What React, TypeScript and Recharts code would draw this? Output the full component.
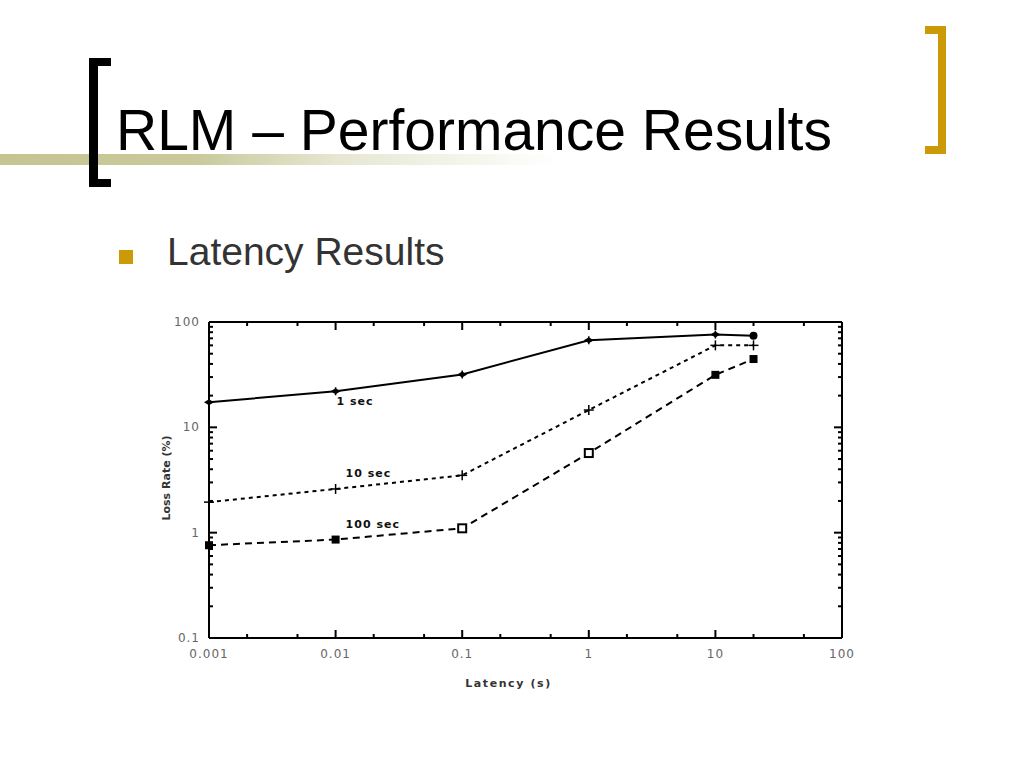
import React from 'react';
import { LineChart, Line, XAxis, YAxis } from 'recharts';

// ---- data ----
const latency = [0.001, 0.01, 0.1, 1, 10, 20];
const loss1s = [17.3, 22, 31.8, 67, 76, 74];
const loss10s = [1.95, 2.6, 3.5, 14.6, 60, 60];
const loss100s = [0.76, 0.86, 1.1, 5.7, 31.5, 44.5];

const seriesNames = ['1 sec', '10 sec', '100 sec'];

const xMajorTicks = [0.001, 0.01, 0.1, 1, 10, 100];
const xMinorTicks = [0.002, 0.005, 0.02, 0.05, 0.2, 0.5, 2, 5, 20, 50];
const yMajorTicks = [0.1, 1, 10, 100];
const yMinorTicks = [
  0.2, 0.3, 0.4, 0.5, 0.6, 0.7, 0.8, 0.9,
  2, 3, 4, 5, 6, 7, 8, 9,
  20, 30, 40, 50, 60, 70, 80, 90,
];

const xTicks = [...xMajorTicks, ...xMinorTicks].sort((a, b) => a - b);
const yTicks = [...yMajorTicks, ...yMinorTicks].sort((a, b) => a - b);

const build = (ys: number[]) => latency.map((x, i) => ({ x, y: ys[i] }));
const data1 = build(loss1s);
const data10 = build(loss10s);
const data100 = build(loss100s);

// chart layout
const CHART_W = 720;
const CHART_H = 400;
const MARGIN = { top: 21, right: 27, left: 58, bottom: 61 };
const AXIS_T = 1;
const PLOT_W = CHART_W - MARGIN.left - MARGIN.right - 2 * AXIS_T;
const PLOT_H = CHART_H - MARGIN.top - MARGIN.bottom - 2 * AXIS_T;

const tickFont = {
  fontFamily: 'DejaVu Sans, sans-serif',
  fontSize: 12,
  fill: '#666',
  letterSpacing: 1,
};

const isMajor = (list: number[], v: number) => list.some((m) => Math.abs(m - v) < 1e-9);

const XTickBottom = (props: any) => {
  const { x, y, payload } = props;
  const major = isMajor(xMajorTicks, payload.value);
  const len = major ? 8 : 4;
  const top = y - PLOT_H;
  return (
    <g>
      <line x1={x} x2={x} y1={y} y2={y - len} stroke="#000" strokeWidth={2} />
      <line x1={x} x2={x} y1={top} y2={top + len} stroke="#000" strokeWidth={2} />
      {major && (
        <text x={x} y={y + 20} textAnchor="middle" style={tickFont}>
          {String(payload.value)}
        </text>
      )}
    </g>
  );
};

const YTickLeft = (props: any) => {
  const { x, y, payload } = props;
  const major = isMajor(yMajorTicks, payload.value);
  const len = major ? 8 : 4;
  const right = x + PLOT_W;
  return (
    <g>
      <line x1={x} x2={x + len} y1={y} y2={y} stroke="#000" strokeWidth={2} />
      <line x1={right} x2={right - len} y1={y} y2={y} stroke="#000" strokeWidth={2} />
      {major && (
        <text x={x - 9} y={y + 4} textAnchor="end" style={tickFont}>
          {String(payload.value)}
        </text>
      )}
    </g>
  );
};

const titleFont = {
  fontFamily: 'DejaVu Sans, sans-serif',
  fontSize: 11,
  fontWeight: 'bold' as const,
  fill: '#333',
};

const XTitle = (props: any) => {
  const vb = props.viewBox || { x: 0, y: 0, width: 0, height: 0 };
  return (
    <text
      x={vb.x + vb.width / 2 - 17}
      y={vb.y + 49}
      textAnchor="middle"
      style={{ ...titleFont, letterSpacing: 1.6 }}
    >
      Latency (s)
    </text>
  );
};

const YTitle = (props: any) => {
  const vb = props.viewBox || { x: 0, y: 0, width: 0, height: 0 };
  const cx = vb.x + vb.width - 39;
  const cy = vb.y + vb.height / 2 - 2;
  return (
    <text
      x={cx}
      y={cy}
      textAnchor="middle"
      transform={`rotate(-90 ${cx} ${cy})`}
      style={{ ...titleFont, letterSpacing: 0 }}
    >
      Loss Rate (%)
    </text>
  );
};

const seriesLabelStyle = {
  fontFamily: 'DejaVu Sans, sans-serif',
  fontSize: 11,
  fontWeight: 'bold' as const,
  fill: '#111',
  letterSpacing: 1,
};

const makeLabel = (name: string, dx: number, dy: number) => (props: any) => {
  const { x, y, index } = props;
  if (index !== 1) return null;
  return (
    <text key={`lbl-${name}`} x={x + dx} y={y + dy} textAnchor="start" style={seriesLabelStyle}>
      {name}
    </text>
  );
};

const dot1 = (props: any) => {
  const { cx, cy, index } = props;
  if (index === latency.length - 1) {
    return <circle key={index} cx={cx} cy={cy} r={4} fill="#000" />;
  }
  return (
    <g key={index}>
      <polygon
        points={`${cx - 5},${cy} ${cx},${cy - 3} ${cx + 5},${cy} ${cx},${cy + 3}`}
        fill="#000"
      />
      <line x1={cx} x2={cx} y1={cy - 4} y2={cy + 4} stroke="#000" strokeWidth={1.5} />
    </g>
  );
};

const dot10 = (props: any) => {
  const { cx, cy, index } = props;
  return (
    <g key={index}>
      <line x1={cx - 5} x2={cx + 5} y1={cy} y2={cy} stroke="#000" strokeWidth={1.5} />
      <line x1={cx} x2={cx} y1={cy - 5} y2={cy + 5} stroke="#000" strokeWidth={1.5} />
    </g>
  );
};

const dot100 = (props: any) => {
  const { cx, cy, index, payload } = props;
  const hollow = payload && (payload.x === 0.1 || payload.x === 1);
  return hollow ? (
    <rect key={index} x={cx - 4} y={cy - 4} width={8} height={8} fill="#fff" stroke="#000" strokeWidth={2} />
  ) : (
    <rect key={index} x={cx - 4} y={cy - 4} width={8} height={8} fill="#000" />
  );
};

export default function App() {
  return (
    <div
      style={{
        position: 'absolute',
        left: 0,
        top: 0,
        width: 1024,
        height: 768,
        background: '#fff',
        overflow: 'hidden',
        fontFamily: '"Liberation Sans", Arial, sans-serif',
      }}
    >
      {/* olive band */}
      <div
        style={{
          position: 'absolute',
          left: 0,
          top: 154,
          width: 560,
          height: 11,
          background:
            'linear-gradient(to right, #c5c592 0%, #c9c99c 35%, rgba(214,214,180,0.6) 60%, rgba(255,255,255,0) 100%)',
        }}
      />
      {/* left black bracket */}
      <div style={{ position: 'absolute', left: 89, top: 58, width: 9, height: 129, background: '#000' }} />
      <div style={{ position: 'absolute', left: 89, top: 58, width: 22, height: 8, background: '#000' }} />
      <div style={{ position: 'absolute', left: 89, top: 179, width: 22, height: 8, background: '#000' }} />
      {/* right gold bracket */}
      <div style={{ position: 'absolute', left: 938, top: 26, width: 8, height: 128, background: '#cc9a06' }} />
      <div style={{ position: 'absolute', left: 925, top: 26, width: 21, height: 8, background: '#cc9a06' }} />
      <div style={{ position: 'absolute', left: 925, top: 146, width: 21, height: 8, background: '#cc9a06' }} />

      {/* title */}
      <div
        style={{
          position: 'absolute',
          left: 116,
          top: 151 - 49,
          fontSize: 57,
          lineHeight: '57px',
          color: '#000',
          whiteSpace: 'nowrap',
        }}
      >
        RLM – Performance Results
      </div>

      {/* bullet */}
      <div style={{ position: 'absolute', left: 119, top: 250, width: 14, height: 14, background: '#cc9a06' }} />
      <div
        style={{
          position: 'absolute',
          left: 167,
          top: 265 - 33,
          fontSize: 39,
          lineHeight: '39px',
          color: '#333',
          whiteSpace: 'nowrap',
        }}
      >
        Latency Results
      </div>

      {/* chart */}
      <div style={{ position: 'absolute', left: 150, top: 300 }}>
        <LineChart width={CHART_W} height={CHART_H} margin={MARGIN}>
          <XAxis
            xAxisId="bottom"
            dataKey="x"
            type="number"
            scale="log"
            domain={[0.001, 100]}
            ticks={xTicks}
            interval={0}
            height={AXIS_T}
            tickSize={0}
            tickMargin={0}
            tickLine={false}
            tick={<XTickBottom />}
            axisLine={{ stroke: '#000', strokeWidth: 2 }}
            label={<XTitle />}
          />
          <XAxis
            xAxisId="top"
            orientation="top"
            dataKey="x"
            type="number"
            scale="log"
            domain={[0.001, 100]}
            height={AXIS_T}
            tick={false}
            tickLine={false}
            axisLine={{ stroke: '#000', strokeWidth: 2 }}
          />
          <YAxis
            yAxisId="left"
            type="number"
            scale="log"
            domain={[0.1, 100]}
            ticks={yTicks}
            interval={0}
            width={AXIS_T}
            tickSize={0}
            tickMargin={0}
            tickLine={false}
            tick={<YTickLeft />}
            axisLine={{ stroke: '#000', strokeWidth: 2 }}
            label={<YTitle />}
          />
          <YAxis
            yAxisId="right"
            orientation="right"
            type="number"
            scale="log"
            domain={[0.1, 100]}
            width={AXIS_T}
            tick={false}
            tickLine={false}
            axisLine={{ stroke: '#000', strokeWidth: 2 }}
          />
          <Line
            xAxisId="bottom"
            yAxisId="left"
            data={data1}
            dataKey="y"
            name={seriesNames[0]}
            type="linear"
            stroke="#000"
            strokeWidth={2}
            dot={dot1}
            label={makeLabel(seriesNames[0], 1, 14)}
            isAnimationActive={false}
          />
          <Line
            xAxisId="bottom"
            yAxisId="left"
            data={data10}
            dataKey="y"
            name={seriesNames[1]}
            type="linear"
            stroke="#000"
            strokeWidth={2}
            strokeDasharray="4 4"
            dot={dot10}
            label={makeLabel(seriesNames[1], 10, -12)}
            isAnimationActive={false}
          />
          <Line
            xAxisId="bottom"
            yAxisId="left"
            data={data100}
            dataKey="y"
            name={seriesNames[2]}
            type="linear"
            stroke="#000"
            strokeWidth={2}
            strokeDasharray="7 5"
            dot={dot100}
            label={makeLabel(seriesNames[2], 10, -12)}
            isAnimationActive={false}
          />
        </LineChart>
      </div>
    </div>
  );
}
